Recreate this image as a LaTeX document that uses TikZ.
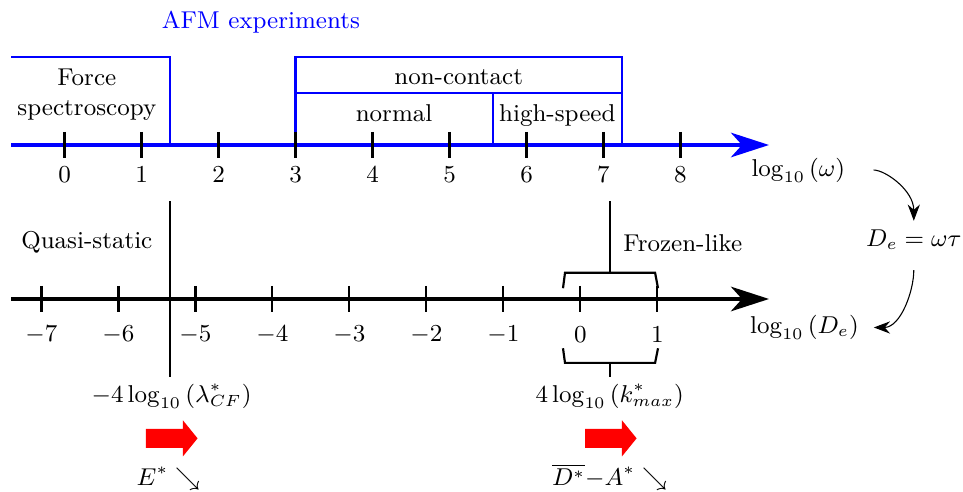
\documentclass[tikz,border=0pt]{standalone}
\usepackage{amsmath,amssymb}
\usepackage{tikz}
\usetikzlibrary{arrows.meta}

\begin{document}
\begin{tikzpicture}[every node/.style={font=\small}, >={Stealth[length=6pt,width=4.5pt]},
	axis/.style={line width=1.8pt, -{Stealth[length=14pt,width=9pt,inset=4pt]}},
	afm/.style={blue, thick},
	tickline/.style={thick}]
	\useasboundingbox (-0.838,-2.494) rectangle (11.669,3.883);
	% frequency axis with the AFM ranges
	\draw[axis, blue] (-0.695,2) -- (9.15,2);
	\draw[afm] (-0.695,3.143) -- (1.37,3.143) -- (1.37,2);
	\draw[afm] (3,2) rectangle (7.24,3.143);
	\draw[afm] (3,2.675) -- (7.24,2.675);
	\draw[afm] (5.565,2) -- (5.565,2.675);
	\foreach \x in {0,...,8} {\draw[tickline] (\x,2.17) -- (\x,1.83); \node (w\x) at (\x,1.61) {$\x$};}
	\node[blue] (afm) at (2.55,3.60) {AFM experiments};
	\node[align=center] (force) at (0.29,2.65) {Force\\spectroscopy};
	\node[anchor=base] (noncontact) at (5.12,2.78) {non-contact};
	\node[anchor=base] (normal) at (4.28,2.30) {normal};
	\node[anchor=base] (highspeed) at (6.40,2.30) {high-speed};
	% Deborah number axis
	\draw[axis] (-0.695,0) -- (9.15,0);
	\foreach \v in {-7,...,1} {\draw[tickline] (\v+6.7,0.17) -- (\v+6.7,-0.17); \node (d\v) at (\v+6.7,-0.46) {$\v$};}
	\draw[thick] (1.37,1.27) -- (1.37,-1.01);
	\node (quasi) at (0.29,0.74) {Quasi-static};
	\node (lam) at (1.39,-1.26) {$-4\log_{10}\left(\lambda^*_{CF}\right)$};
	\draw[thick] (7.08,1.27) -- (7.08,0.34);
	\draw[thick] (6.474,0.14) -- (6.50,0.34) -- (7.67,0.34) -- (7.708,0.14);
	\draw[thick] (6.474,-0.64) -- (6.50,-0.83) -- (7.67,-0.83) -- (7.708,-0.64);
	\draw[thick] (7.08,-0.83) -- (7.08,-1.01);
	\node (frozen) at (8.03,0.73) {Frozen-like};
	\node (kmax) at (7.08,-1.26) {$4\log_{10}\left(k^*_{max}\right)$};
	% change of variable
	\node (logw) at (9.53,1.675) {$\log_{10}\left(\omega\right)$};
	\node (De) at (11.03,0.766) {$D_e=\omega\tau$};
	\node (logDe) at (9.61,-0.37) {$\log_{10}\left(D_e\right)$};
	\draw[->, shorten <=7pt] (logw.east) to[out=0,in=90] (De.north);
	\draw[->, shorten <=4pt, shorten >=2pt] (De.south) to[out=-90,in=0] (logDe.east);
	% trends
	\foreach \x in {1.058,6.76} {\fill[red] (\x,-1.933) -- ++(0.48,0) -- ++(0,-0.111) -- (\x+0.67,-1.81) -- (\x+0.48,-1.576) -- ++(0,-0.111) -- (\x,-1.687) -- cycle;}
	\node[anchor=base] (Edown) at (1.35,-2.42) {$E^*\searrow$};
	\node[anchor=base] (DAdown) at (7.08,-2.42) {$\overline{D^*}{-}A^*\searrow$};
\end{tikzpicture}
\end{document}
